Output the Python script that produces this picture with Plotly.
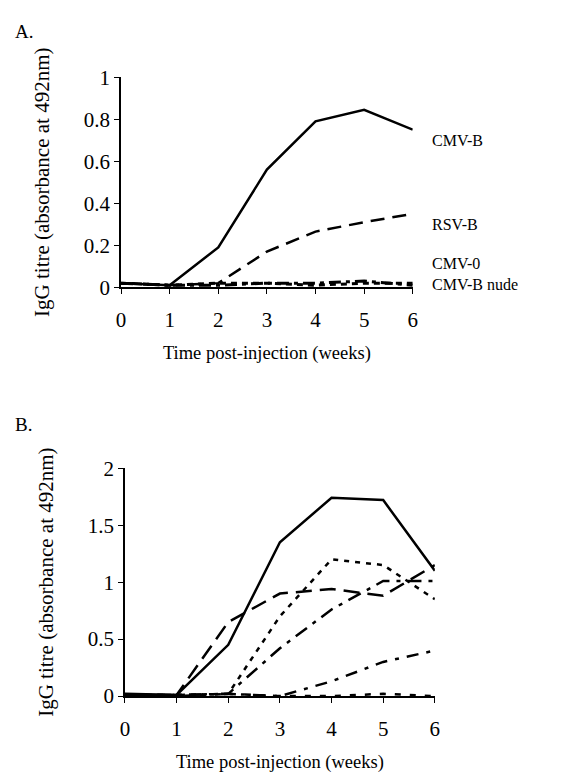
import plotly.graph_objects as go

# time points (weeks)
weeks = [0, 1, 2, 3, 4, 5, 6]

# panel A series
a_cmv_b = [0.02, 0.01, 0.19, 0.56, 0.79, 0.845, 0.75]
a_rsv_b = [0.02, 0.01, 0.02, 0.17, 0.265, 0.31, 0.35]
a_cmv_0 = [0.02, 0.01, 0.02, 0.02, 0.01, 0.02, 0.02]
a_cmv_b_nude = [0.02, 0.01, 0.01, 0.02, 0.02, 0.03, 0.01]
a_names = ["CMV-B", "RSV-B", "CMV-0", "CMV-B nude"]
a_label_y = [0.7, 0.30, 0.115, 0.015]

# panel B series (unlabelled in the original)
b_solid = [0.02, 0.01, 0.45, 1.35, 1.74, 1.72, 1.10]
b_longdash = [0.01, 0.01, 0.65, 0.90, 0.94, 0.88, 1.15]
b_dotted = [0.01, 0.01, 0.02, 0.70, 1.20, 1.15, 0.85]
b_dashdot = [0.01, 0.01, 0.02, 0.42, 0.76, 1.01, 1.01]
b_low = [0.01, 0.01, 0.02, 0.0, 0.13, 0.30, 0.40]
b_flat = [0.01, 0.0, 0.02, 0.0, 0.0, 0.02, 0.0]

FONT = "Liberation Serif"
# the page body keeps its default 8px margin, so the figure is drawn 8px in
OFF = 8
W, H = 577 - 2 * OFF, 781 - 2 * OFF


def px(x):
    return (x - OFF) / W


def py(y):
    return 1 - (y - OFF) / H


fig = go.Figure()


def line(x, y, dash, xa, ya, width=2.5):
    fig.add_trace(go.Scatter(
        x=x, y=y, mode="lines", xaxis=xa, yaxis=ya, showlegend=False,
        line=dict(color="black", width=width, dash=dash),
        hoverinfo="skip",
    ))


# panel A
line(weeks, a_cmv_b, "solid", "x", "y")
line(weeks, a_rsv_b, "14px,8px", "x", "y")
line(weeks, a_cmv_0, "6px,5px", "x", "y", 3)
line(weeks, a_cmv_b_nude, "12px,5px,4px,5px", "x", "y", 3)

# panel B
line(weeks, b_solid, "solid", "x2", "y2")
line(weeks, b_longdash, "16px,8px", "x2", "y2")
line(weeks, b_dotted, "5px,6px", "x2", "y2")
line(weeks, b_dashdot, "14px,7px,4px,7px", "x2", "y2")
line(weeks, b_low, "12px,8px,4px,8px", "x2", "y2")
line(weeks, b_flat, "6px,9px", "x2", "y2")

axis_common = dict(
    showline=True, linecolor="black", linewidth=1.5, mirror=False,
    ticks="outside", ticklen=5, tickwidth=1.2, tickcolor="black",
    showgrid=False, zeroline=False,
    tickfont=dict(family=FONT, size=21, color="black"),
)
xtitle = dict(text="Time post-injection (weeks)", standoff=15,
              font=dict(family=FONT, size=18.5, color="black"))
ytitle = dict(text="IgG titre (absorbance at 492nm)", standoff=28,
              font=dict(family=FONT, size=21, color="black"))

fig.update_layout(
    width=W, height=H,
    margin=dict(l=0, r=0, t=0, b=0),
    paper_bgcolor="white", plot_bgcolor="white",
    font=dict(family=FONT, color="black"),
    xaxis=dict(axis_common, domain=[px(118), px(415)], range=[0, 6],
               dtick=1, anchor="y", ticklabelstandoff=8, title=xtitle),
    yaxis=dict(axis_common, domain=[py(284), py(67)], range=[0, 1],
               dtick=0.2, anchor="x", title=ytitle),
    xaxis2=dict(axis_common, domain=[px(122), px(437.5)], range=[0, 6],
                dtick=1, anchor="y2", ticklabelstandoff=8, title=xtitle),
    yaxis2=dict(axis_common, domain=[py(706), py(470.7)], range=[0, 2],
                dtick=0.5, anchor="x2", title=ytitle),
)

# series labels for panel A
for name, yv in zip(a_names, a_label_y):
    fig.add_annotation(x=px(433), xref="paper", y=yv, yref="y", text=name,
                       showarrow=False, xanchor="left", yanchor="middle",
                       font=dict(family=FONT, size=16, color="black"))

# panel letters
fig.add_annotation(x=px(8), y=py(20), xref="paper", yref="paper", text="A.",
                   showarrow=False, xanchor="left", yanchor="middle",
                   font=dict(family=FONT, size=19, color="black"))
fig.add_annotation(x=px(8), y=py(426), xref="paper", yref="paper", text="B.",
                   showarrow=False, xanchor="left", yanchor="middle",
                   font=dict(family=FONT, size=19, color="black"))

fig.write_html("out.html")
